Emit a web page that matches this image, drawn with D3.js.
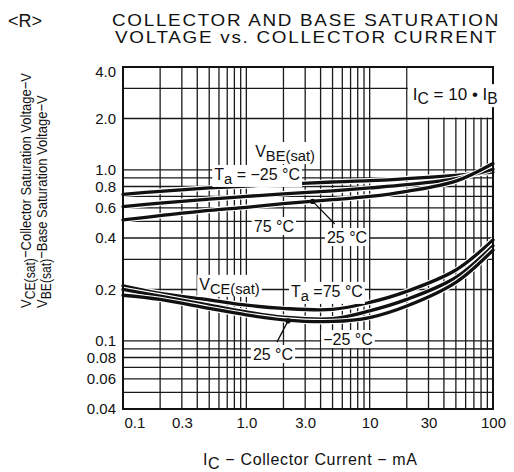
<!DOCTYPE html>
<html>
<head>
<meta charset="utf-8">
<script src="https://cdn.jsdelivr.net/npm/d3@7"></script>
<style>
body { margin: 0; background: #fff; }
text { font-family: "Liberation Sans", Arial, sans-serif; fill: #111; }
</style>
</head>
<body>
<svg id="chart" width="514" height="472"></svg>
<script>
// collector current, mA
var current = [0.1, 0.2, 0.5, 1, 2, 5, 10, 20, 50, 100];

// VBE(sat), V
var vbeMinus25 = [0.72, 0.75, 0.785, 0.805, 0.825, 0.85, 0.865, 0.89, 0.93, 0.97];
var vbe25 = [0.61, 0.64, 0.675, 0.70, 0.725, 0.755, 0.785, 0.82, 0.89, 1.01];
var vbe75 = [0.51, 0.54, 0.58, 0.605, 0.635, 0.67, 0.70, 0.75, 0.86, 1.09];

// VCE(sat), V
var vce75 = [0.21, 0.19, 0.174, 0.162, 0.155, 0.153, 0.168, 0.195, 0.26, 0.39];
var vce25 = [0.20, 0.183, 0.162, 0.148, 0.138, 0.135, 0.15, 0.175, 0.235, 0.36];
var vceMinus25 = [0.185, 0.175, 0.155, 0.142, 0.133, 0.13, 0.137, 0.16, 0.22, 0.34];

var xTickValues = [0.1, 0.3, 1, 3, 10, 30, 100];
var xTickLabels = ["0.1", "0.3", "1.0", "3.0", "10", "30", "100"];
var yTickValues = [4, 2, 1, 0.8, 0.6, 0.4, 0.2, 0.1, 0.08, 0.06, 0.04];
var yTickLabels = ["4.0", "2.0", "1.0", "0.8", "0.6", "0.4", "0.2", "0.1", "0.08", "0.06", "0.04"];

var pLeft = 123, pRight = 493, pTop = 67, pBottom = 409;

var svg = d3.select('#chart');

var x = d3.scaleLog().domain([0.1, 100]).range([pLeft, pRight]),
    y = d3.scaleLog().domain([0.04, 4]).range([pBottom, pTop]);

// grid
var grid = svg.append('g').attr('stroke', '#1a1a1a').attr('stroke-width', 1.3);
grid.selectAll('line.vx').data(x.ticks()).enter().append('line')
    .attr('x1', function (d) { return x(d); }).attr('x2', function (d) { return x(d); })
    .attr('y1', pTop).attr('y2', pBottom);
grid.selectAll('line.hy').data(y.ticks()).enter().append('line')
    .attr('y1', function (d) { return y(d); }).attr('y2', function (d) { return y(d); })
    .attr('x1', pLeft).attr('x2', pRight);

// blank corner for the condition note
svg.append('rect')
    .attr('x', x(20) + 1).attr('y', pTop)
    .attr('width', x(100) - x(20) - 1).attr('height', y(2) - pTop - 1)
    .attr('fill', '#fff');

// curves
var line = d3.line()
    .x(function (d, i) { return x(current[i]); })
    .y(function (d) { return y(d); })
    .curve(d3.curveCatmullRom.alpha(0.5));

var curves = [vbeMinus25, vbe25, vbe75, vce75, vce25, vceMinus25];
var cg = svg.append('g').attr('fill', 'none').attr('stroke-linecap', 'round');
curves.forEach(function (c) {
    cg.append('path').attr('d', line(c)).attr('stroke', '#fff').attr('stroke-width', 5.5);
    cg.append('path').attr('d', line(c)).attr('stroke', '#111').attr('stroke-width', 3.3);
});

// leaders
var leaders = [
    [[5.2, 0.485], [3.45, 0.655]],
    [[1.77, 0.0985], [2.18, 0.131]]
];
leaders.forEach(function (l) {
    svg.append('line')
        .attr('x1', x(l[0][0])).attr('y1', y(l[0][1]))
        .attr('x2', x(l[1][0])).attr('y2', y(l[1][1]))
        .attr('stroke', '#111').attr('stroke-width', 1.3);
    svg.append('circle').attr('cx', x(l[1][0])).attr('cy', y(l[1][1])).attr('r', 2.6).attr('fill', '#111');
});

// frame
svg.append('rect').attr('x', pLeft).attr('y', pTop).attr('width', pRight - pLeft).attr('height', pBottom - pTop)
    .attr('fill', 'none').attr('stroke', '#111').attr('stroke-width', 2);

// labels inside the plot, on white boxes
function note(parts, I, V, size) {
    var t = svg.append('text').attr('x', x(I)).attr('y', y(V)).style('font-size', size + 'px');
    parts.forEach(function (p) {
        if (p.sub) {
            t.append('tspan').attr('dy', 4).style('font-size', (size * 0.92) + 'px').text(p.t);
        } else if (p.after) {
            t.append('tspan').attr('dy', -4).text(p.t);
        } else {
            t.append('tspan').text(p.t);
        }
    });
    var b = t.node().getBBox();
    svg.insert('rect', function () { return t.node(); })
        .attr('x', b.x - 2).attr('y', b.y - 1).attr('width', b.width + 4).attr('height', b.height + 1)
        .attr('fill', '#fff');
    return t;
}

note([{ t: 'V' }, { t: 'BE(sat)', sub: true }], 1.18, 1.19, 16);
note([{ t: 'T' }, { t: 'a', sub: true }, { t: ' = \u221225  \u00b0C', after: true }], 0.55, 0.874, 16);
note([{ t: '75  \u00b0C' }], 1.15, 0.434, 16);
note([{ t: '25  \u00b0C' }], 4.5, 0.374, 16);
note([{ t: 'V' }, { t: 'CE(sat)', sub: true }], 0.415, 0.199, 16);
note([{ t: 'T' }, { t: 'a', sub: true }, { t: ' =75  \u00b0C', after: true }], 2.3, 0.181, 16);
note([{ t: '\u221225  \u00b0C' }], 4.2, 0.0947, 16);
note([{ t: '25  \u00b0C' }], 1.13, 0.0774, 16);
note([{ t: 'I' }, { t: 'C', sub: true }, { t: ' = 10 \u2022 I', after: true }, { t: 'B', sub: true }], 22.4, 2.56, 17);

// axes
var xAxis = svg.append('g').attr('transform', 'translate(0,' + pBottom + ')')
    .call(d3.axisBottom(x).tickValues(xTickValues)
        .tickFormat(function (d, i) { return xTickLabels[i]; })
        .tickSize(0).tickPadding(8));
xAxis.select('.domain').remove();
xAxis.selectAll('text').style('font-size', '15px').attr('fill', '#111')
    .style('font-family', '"Liberation Sans", Arial, sans-serif');
xAxis.selectAll('.tick').filter(function (d) { return d === 0.1; })
    .select('text').attr('text-anchor', 'start').attr('x', 1);

var yAxis = svg.append('g').attr('transform', 'translate(' + pLeft + ',0)')
    .call(d3.axisLeft(y).tickValues(yTickValues)
        .tickFormat(function (d, i) { return yTickLabels[i]; })
        .tickSize(0).tickPadding(7));
yAxis.select('.domain').remove();
yAxis.selectAll('text').style('font-size', '15px').attr('fill', '#111')
    .style('font-family', '"Liberation Sans", Arial, sans-serif');
yAxis.selectAll('.tick').filter(function (d) { return d === 4; })
    .select('text').attr('dy', '0.62em');

// axis titles
var xt = svg.append('text').attr('x', 203).attr('y', 465).style('font-size', '16px')
    .attr('textLength', 214).attr('lengthAdjust', 'spacing');
xt.append('tspan').text('I');
xt.append('tspan').attr('dy', 4).text('C');
xt.append('tspan').attr('dy', -4).text(' \u2212 Collector  Current \u2212 mA');

// narrow, tall lettering like the printed sheet
function yTitle(sub, rest, xpos) {
    var t = svg.append('text').attr('transform', 'translate(' + xpos + ',308) rotate(-90) scale(0.84,1)')
        .style('font-size', '15.5px');
    t.append('tspan').text('V');
    t.append('tspan').attr('dy', 4).style('font-size', '14.5px').text(sub);
    t.append('tspan').attr('dy', -4).text(rest);
}
yTitle('CE(sat)', '\u2212Collector Saturation Voltage\u2212V', 31);
yTitle('BE(sat)', '\u2212Base Saturation Voltage\u2212V', 47);

// header
svg.append('text').attr('x', 8).attr('y', 27).style('font-size', '18px').text('<R>');
svg.append('text').attr('x', 112).attr('y', 26).style('font-size', '16.5px')
    .style('letter-spacing', '1.5px')
    .attr('textLength', 388).attr('lengthAdjust', 'spacingAndGlyphs')
    .text('COLLECTOR AND BASE SATURATION');
svg.append('text').attr('x', 115).attr('y', 43).style('font-size', '16.5px')
    .style('letter-spacing', '1.5px')
    .attr('textLength', 383).attr('lengthAdjust', 'spacingAndGlyphs')
    .text('VOLTAGE vs. COLLECTOR CURRENT');
</script>
</body>
</html>
